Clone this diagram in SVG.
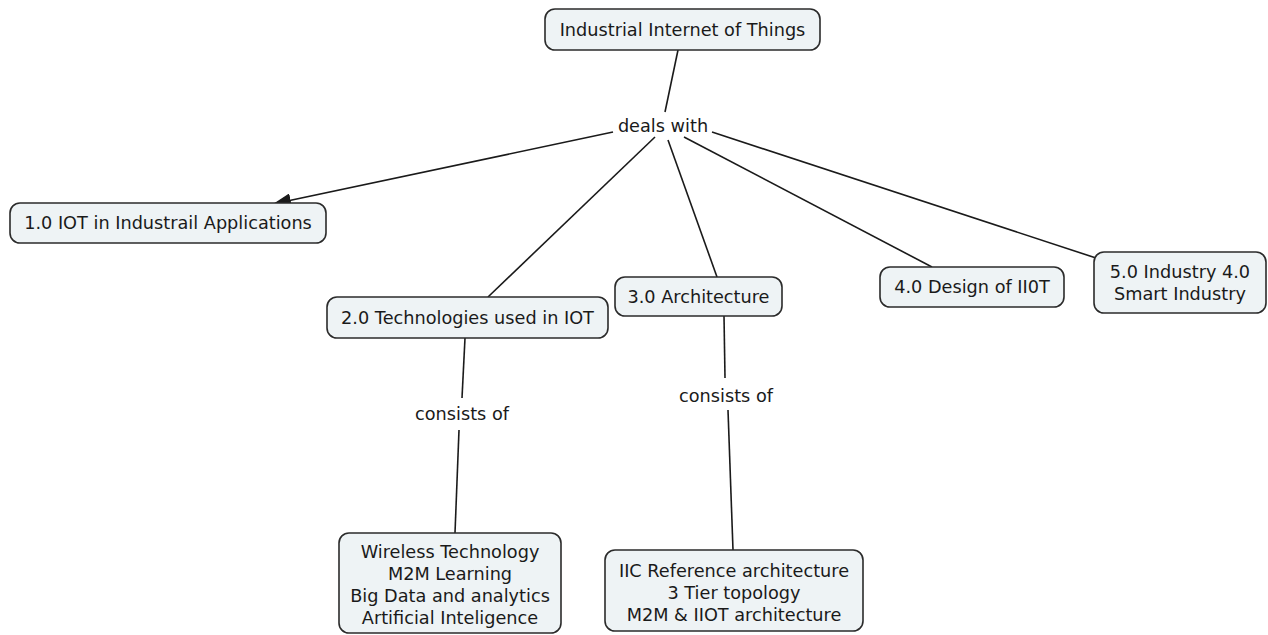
<svg xmlns="http://www.w3.org/2000/svg" width="1268" height="635" viewBox="0 0 1268 635">
<defs>
<style>
.box{fill:#eef3f5;stroke:#2b2b2b;stroke-width:1.6}
.t{font-family:"DejaVu Sans",Verdana,sans-serif;font-size:17.7px;fill:#1a1a1a;text-anchor:middle}
.c{stroke:#1a1a1a;stroke-width:1.6;fill:none}
</style>
<marker id="arr" viewBox="0 0 10 10" refX="10" refY="5" markerWidth="18" markerHeight="14" markerUnits="userSpaceOnUse" orient="auto" preserveAspectRatio="none">
<path d="M0,0 L10,5 L0,10 z" fill="#1a1a1a"/>
</marker>
</defs>
<rect width="1268" height="635" fill="#ffffff"/>
<g id="connectors">
<line class="c" x1="678" y1="50" x2="665" y2="112"/>
<line class="c" x1="613" y1="132" x2="273" y2="204" marker-end="url(#arr)"/>
<line class="c" x1="655" y1="137" x2="488" y2="297"/>
<line class="c" x1="668" y1="140" x2="717" y2="277"/>
<line class="c" x1="684" y1="137" x2="932" y2="267"/>
<line class="c" x1="712" y1="132" x2="1096" y2="258"/>
<line class="c" x1="465" y1="338" x2="462" y2="398"/>
<line class="c" x1="459" y1="430" x2="455" y2="533"/>
<line class="c" x1="724" y1="316" x2="725" y2="378"/>
<line class="c" x1="728" y1="410" x2="733" y2="550"/>
<text class="t" x="663" y="132">deals with</text>
<text class="t" x="462" y="420">consists of</text>
<text class="t" x="726" y="402">consists of</text>
</g>
<g id="n-iiot">
<rect class="box" x="545" y="9" width="275" height="41" rx="10"/>
<text class="t" x="682.5" y="36">Industrial Internet of Things</text>
</g>
<g id="n-1">
<rect class="box" x="10" y="203" width="316" height="40" rx="10"/>
<text class="t" x="168" y="229">1.0 IOT in Industrail Applications</text>
</g>
<g id="n-2">
<rect class="box" x="327" y="297" width="281" height="41" rx="10"/>
<text class="t" x="467.5" y="324">2.0 Technologies used in IOT</text>
</g>
<g id="n-3">
<rect class="box" x="615" y="277" width="167" height="39" rx="10"/>
<text class="t" x="698.5" y="303">3.0 Architecture</text>
</g>
<g id="n-4">
<rect class="box" x="880" y="267" width="184" height="40" rx="10"/>
<text class="t" x="972" y="293">4.0 Design of II0T</text>
</g>
<g id="n-5">
<rect class="box" x="1094" y="252" width="172" height="61" rx="10"/>
<text class="t" x="1180" y="278">5.0 Industry 4.0</text>
<text class="t" x="1180" y="300">Smart Industry</text>
</g>
<g id="n-tech">
<rect class="box" x="339" y="533" width="222" height="100" rx="10"/>
<text class="t" x="450" y="558">Wireless Technology</text>
<text class="t" x="450" y="580">M2M Learning</text>
<text class="t" x="450" y="602">Big Data and analytics</text>
<text class="t" x="450" y="624">Artificial Inteligence</text>
</g>
<g id="n-arch">
<rect class="box" x="605" y="550" width="258" height="81" rx="10"/>
<text class="t" x="734" y="577">IIC Reference architecture</text>
<text class="t" x="734" y="599">3 Tier topology</text>
<text class="t" x="734" y="621">M2M &amp; IIOT architecture</text>
</g>
</svg>
